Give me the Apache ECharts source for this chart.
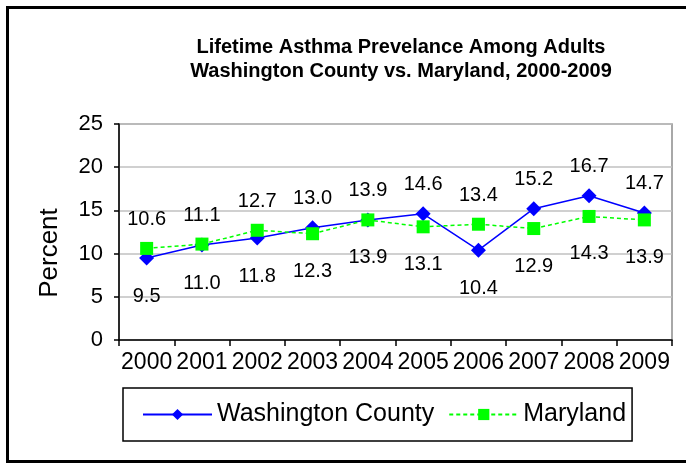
<!DOCTYPE html>
<html>
<head>
<meta charset="utf-8">
<script src="https://cdn.jsdelivr.net/npm/echarts@6/dist/echarts.min.js"></script>
<style>
  html, body { margin: 0; padding: 0; background: #fff; }
  #chart { width: 686px; height: 464px; }
</style>
</head>
<body>
<div id="chart"></div>
<script>
// data
const years = ['2000', '2001', '2002', '2003', '2004', '2005', '2006', '2007', '2008', '2009'];
const washington = [9.5, 11.0, 11.8, 13.0, 13.9, 14.6, 10.4, 15.2, 16.7, 14.7];
const maryland = [10.6, 11.1, 12.7, 12.3, 13.9, 13.1, 13.4, 12.9, 14.3, 13.9];
const yTicks = { min: 0, max: 25, interval: 5 };

const FONT = "'Liberation Sans', Arial, sans-serif";

// the higher point of each year gets its label above, the other below
function withLabels(values, others, winsTies) {
  return values.map((v, i) => {
    const above = winsTies ? v >= others[i] : v > others[i];
    return {
      value: v,
      label: above
        ? { position: 'top', distance: 12 }
        : { position: 'bottom', distance: 21 }
    };
  });
}

const chart = echarts.init(document.getElementById('chart'));

const option = {
  animation: false,
  backgroundColor: '#fff',
  title: {
    text: 'Lifetime Asthma Prevelance Among Adults\nWashington County vs. Maryland, 2000-2009',
    left: 396,
    top: 30,
    textAlign: 'center',
    textStyle: {
      fontFamily: FONT,
      fontSize: 20,
      fontWeight: 'bold',
      color: '#000',
      lineHeight: 24
    }
  },
  graphic: [
    {
      type: 'rect',
      silent: true,
      shape: { x: 7.5, y: 7.5, width: 700, height: 454 },
      style: { fill: 'none', stroke: '#000', lineWidth: 3 }
    }
  ],
  grid: {
    left: 119,
    right: 14,
    top: 124,
    bottom: 124,
    show: true,
    borderColor: '#8c8c8c',
    borderWidth: 1.5
  },
  legend: {
    left: 123,
    top: 388,
    padding: [14, 6, 14, 19],
    itemWidth: 69,
    itemHeight: 14,
    itemGap: 14,
    borderColor: '#000',
    borderWidth: 1.5,
    textStyle: { fontFamily: FONT, fontSize: 25, color: '#000' },
    data: ['Washington County', 'Maryland']
  },
  xAxis: {
    type: 'category',
    data: years,
    boundaryGap: true,
    axisLine: { lineStyle: { color: '#000', width: 1.5 } },
    axisTick: { show: true, length: 6, lineStyle: { color: '#000', width: 1.5 } },
    axisLabel: { fontFamily: FONT, fontSize: 23, color: '#000', margin: 11, interval: 0 },
    splitLine: { show: false }
  },
  yAxis: {
    type: 'value',
    min: yTicks.min,
    max: yTicks.max,
    interval: yTicks.interval,
    name: 'Percent',
    nameLocation: 'middle',
    nameGap: 56,
    nameTextStyle: { fontFamily: FONT, fontSize: 26, color: '#000', padding: [0, 42, 0, 0] },
    axisLine: { show: true, lineStyle: { color: '#000', width: 1.5 } },
    axisTick: { show: true, length: 5, lineStyle: { color: '#000', width: 1.5 } },
    axisLabel: { fontFamily: FONT, fontSize: 22, color: '#000', margin: 16 },
    splitLine: { lineStyle: { color: '#c0c0c0', width: 1.5 } }
  },
  series: [
    {
      name: 'Washington County',
      type: 'line',
      data: withLabels(washington, maryland, true),
      symbol: 'diamond',
      symbolSize: 15,
      itemStyle: { color: '#0000ff' },
      lineStyle: { color: '#0000ff', width: 1.5 },
      label: {
        show: true,
        fontFamily: FONT,
        fontSize: 20,
        color: '#000',
        formatter: p => p.value.toFixed(1)
      },
      z: 3
    },
    {
      name: 'Maryland',
      type: 'line',
      data: withLabels(maryland, washington, false),
      symbol: 'rect',
      symbolSize: 13,
      itemStyle: { color: '#00ff00' },
      lineStyle: { color: '#00ff00', width: 1.5, type: [4, 3] },
      label: {
        show: true,
        fontFamily: FONT,
        fontSize: 20,
        color: '#000',
        formatter: p => p.value.toFixed(1)
      },
      z: 4
    }
  ]
};

chart.setOption(option);
</script>
</body>
</html>
